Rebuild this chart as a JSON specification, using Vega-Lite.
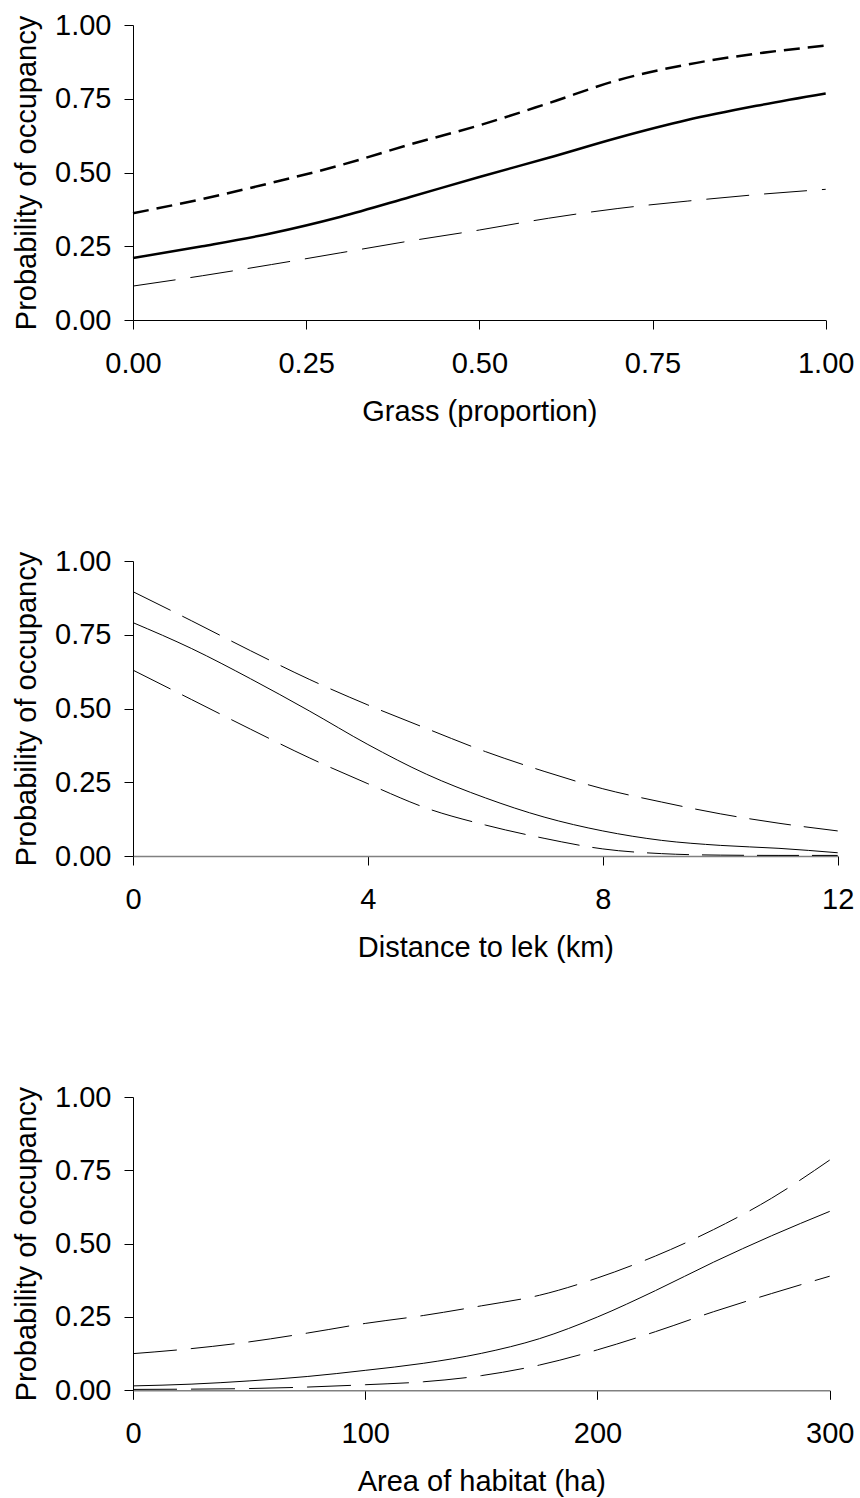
{
  "$schema": "https://vega.github.io/schema/vega-lite/v6.json",
  "background": "white",
  "padding": {"left": 12, "top": 11, "right": 5, "bottom": 5},
  "spacing": 121,
  "config": {
    "font": "Liberation Sans",
    "view": {"stroke": null},
    "axis": {
      "grid": false,
      "domainColor": "#000000",
      "tickColor": "#000000",
      "labelColor": "#000000",
      "titleColor": "#000000",
      "labelFontSize": 29,
      "titleFontSize": 29,
      "titleFontWeight": "normal",
      "tickSize": 9,
      "domainWidth": 1,
      "tickWidth": 1,
      "labelOverlap": false,
      "labelFlush": false
    },
    "axisX": {"labelPadding": 20, "titlePadding": 19},
    "axisY": {"labelPadding": 13, "titlePadding": 13}
  },
  "datasets": {
    "grass": [
      {"x": 0, "s": "est", "p": 0.210},
      {"x": 0.1, "s": "est", "p": 0.250},
      {"x": 0.2, "s": "est", "p": 0.294},
      {"x": 0.3, "s": "est", "p": 0.350},
      {"x": 0.4, "s": "est", "p": 0.417},
      {"x": 0.5, "s": "est", "p": 0.485},
      {"x": 0.6, "s": "est", "p": 0.550},
      {"x": 0.7, "s": "est", "p": 0.618},
      {"x": 0.8, "s": "est", "p": 0.678},
      {"x": 0.9, "s": "est", "p": 0.726},
      {"x": 1.0, "s": "est", "p": 0.768},
      {"x": 0, "s": "hi", "p": 0.362},
      {"x": 0.1, "s": "hi", "p": 0.410},
      {"x": 0.2, "s": "hi", "p": 0.465},
      {"x": 0.3, "s": "hi", "p": 0.525},
      {"x": 0.4, "s": "hi", "p": 0.595},
      {"x": 0.5, "s": "hi", "p": 0.660},
      {"x": 0.6, "s": "hi", "p": 0.735},
      {"x": 0.7, "s": "hi", "p": 0.813},
      {"x": 0.8, "s": "hi", "p": 0.866},
      {"x": 0.9, "s": "hi", "p": 0.903},
      {"x": 1.0, "s": "hi", "p": 0.930},
      {"x": 0, "s": "lo", "p": 0.115},
      {"x": 0.1, "s": "lo", "p": 0.150},
      {"x": 0.2, "s": "lo", "p": 0.188},
      {"x": 0.3, "s": "lo", "p": 0.228},
      {"x": 0.4, "s": "lo", "p": 0.268},
      {"x": 0.5, "s": "lo", "p": 0.305},
      {"x": 0.6, "s": "lo", "p": 0.345},
      {"x": 0.7, "s": "lo", "p": 0.378},
      {"x": 0.8, "s": "lo", "p": 0.403},
      {"x": 0.9, "s": "lo", "p": 0.425},
      {"x": 1.0, "s": "lo", "p": 0.443}
    ],
    "lek": [
      {"x": 0, "s": "est", "p": 0.791},
      {"x": 1, "s": "est", "p": 0.703},
      {"x": 2, "s": "est", "p": 0.601},
      {"x": 3, "s": "est", "p": 0.492},
      {"x": 4, "s": "est", "p": 0.378},
      {"x": 5, "s": "est", "p": 0.277},
      {"x": 6, "s": "est", "p": 0.197},
      {"x": 7, "s": "est", "p": 0.132},
      {"x": 8, "s": "est", "p": 0.085},
      {"x": 9, "s": "est", "p": 0.053},
      {"x": 10, "s": "est", "p": 0.036},
      {"x": 11, "s": "est", "p": 0.026},
      {"x": 12, "s": "est", "p": 0.011},
      {"x": 0, "s": "hi", "p": 0.896},
      {"x": 1, "s": "hi", "p": 0.797},
      {"x": 2, "s": "hi", "p": 0.696},
      {"x": 3, "s": "hi", "p": 0.599},
      {"x": 4, "s": "hi", "p": 0.512},
      {"x": 5, "s": "hi", "p": 0.432},
      {"x": 6, "s": "hi", "p": 0.354},
      {"x": 7, "s": "hi", "p": 0.287},
      {"x": 8, "s": "hi", "p": 0.228},
      {"x": 9, "s": "hi", "p": 0.183},
      {"x": 10, "s": "hi", "p": 0.143},
      {"x": 11, "s": "hi", "p": 0.111},
      {"x": 12, "s": "hi", "p": 0.085},
      {"x": 0, "s": "lo", "p": 0.630},
      {"x": 1, "s": "lo", "p": 0.530},
      {"x": 2, "s": "lo", "p": 0.430},
      {"x": 3, "s": "lo", "p": 0.333},
      {"x": 4, "s": "lo", "p": 0.245},
      {"x": 5, "s": "lo", "p": 0.162},
      {"x": 6, "s": "lo", "p": 0.105},
      {"x": 7, "s": "lo", "p": 0.060},
      {"x": 8, "s": "lo", "p": 0.024},
      {"x": 9, "s": "lo", "p": 0.008},
      {"x": 10, "s": "lo", "p": 0.003},
      {"x": 11, "s": "lo", "p": 0.002},
      {"x": 12, "s": "lo", "p": 0.002}
    ],
    "area": [
      {"x": 0, "s": "est", "p": 0.015},
      {"x": 25, "s": "est", "p": 0.021},
      {"x": 50, "s": "est", "p": 0.032},
      {"x": 75, "s": "est", "p": 0.047},
      {"x": 100, "s": "est", "p": 0.068},
      {"x": 125, "s": "est", "p": 0.092},
      {"x": 150, "s": "est", "p": 0.126},
      {"x": 175, "s": "est", "p": 0.176},
      {"x": 200, "s": "est", "p": 0.250},
      {"x": 225, "s": "est", "p": 0.340},
      {"x": 250, "s": "est", "p": 0.437},
      {"x": 275, "s": "est", "p": 0.527},
      {"x": 300, "s": "est", "p": 0.610},
      {"x": 0, "s": "hi", "p": 0.125},
      {"x": 25, "s": "hi", "p": 0.142},
      {"x": 50, "s": "hi", "p": 0.165},
      {"x": 75, "s": "hi", "p": 0.195},
      {"x": 100, "s": "hi", "p": 0.228},
      {"x": 125, "s": "hi", "p": 0.255},
      {"x": 150, "s": "hi", "p": 0.288},
      {"x": 175, "s": "hi", "p": 0.324},
      {"x": 200, "s": "hi", "p": 0.383},
      {"x": 225, "s": "hi", "p": 0.458},
      {"x": 250, "s": "hi", "p": 0.548},
      {"x": 275, "s": "hi", "p": 0.655},
      {"x": 300, "s": "hi", "p": 0.785},
      {"x": 0, "s": "lo", "p": 0.003},
      {"x": 25, "s": "lo", "p": 0.004},
      {"x": 50, "s": "lo", "p": 0.006},
      {"x": 75, "s": "lo", "p": 0.011},
      {"x": 100, "s": "lo", "p": 0.019},
      {"x": 125, "s": "lo", "p": 0.029},
      {"x": 150, "s": "lo", "p": 0.050},
      {"x": 175, "s": "lo", "p": 0.086},
      {"x": 200, "s": "lo", "p": 0.138},
      {"x": 225, "s": "lo", "p": 0.200},
      {"x": 250, "s": "lo", "p": 0.268},
      {"x": 275, "s": "lo", "p": 0.330},
      {"x": 300, "s": "lo", "p": 0.389}
    ]
  },
  "vconcat": [
    {
      "width": 692.7,
      "height": 295,
      "data": {"name": "grass"},
      "encoding": {
        "x": {"field": "x", "type": "quantitative", "scale": {"domain": [0, 1], "nice": false},
              "axis": {"values": [0, 0.25, 0.5, 0.75, 1], "format": ".2f", "title": "Grass (proportion)"}},
        "y": {"field": "p", "type": "quantitative", "scale": {"domain": [0, 1], "nice": false},
              "axis": {"values": [0, 0.25, 0.5, 0.75, 1], "format": ".2f", "title": "Probability of occupancy"}}
      },
      "layer": [
        {"transform": [{"filter": "datum.s === 'est'"}], "mark": {"type": "line", "color": "#000000", "strokeWidth": 2.5, "interpolate": "monotone"}},
        {"transform": [{"filter": "datum.s === 'hi'"}], "mark": {"type": "line", "color": "#000000", "strokeWidth": 2.5, "strokeDash": [16, 8], "interpolate": "monotone"}},
        {"transform": [{"filter": "datum.s === 'lo'"}], "mark": {"type": "line", "color": "#000000", "strokeWidth": 1, "strokeDash": [43, 15], "interpolate": "monotone"}}
      ]
    },
    {
      "width": 704.7,
      "height": 295,
      "data": {"name": "lek"},
      "encoding": {
        "x": {"field": "x", "type": "quantitative", "scale": {"domain": [0, 12], "nice": false},
              "axis": {"values": [0, 4, 8, 12], "format": "d", "title": "Distance to lek (km)", "domainColor": "#808080", "domainWidth": 1.5}},
        "y": {"field": "p", "type": "quantitative", "scale": {"domain": [0, 1], "nice": false},
              "axis": {"values": [0, 0.25, 0.5, 0.75, 1], "format": ".2f", "title": "Probability of occupancy"}}
      },
      "layer": [
        {"transform": [{"filter": "datum.s === 'est'"}], "mark": {"type": "line", "color": "#000000", "strokeWidth": 1, "interpolate": "monotone"}},
        {"transform": [{"filter": "datum.s === 'hi'"}], "mark": {"type": "line", "color": "#000000", "strokeWidth": 1, "strokeDash": [42, 13], "interpolate": "monotone"}},
        {"transform": [{"filter": "datum.s === 'lo'"}], "mark": {"type": "line", "color": "#000000", "strokeWidth": 1, "strokeDash": [42, 13], "interpolate": "monotone"}}
      ]
    },
    {
      "width": 696.7,
      "height": 293.3,
      "data": {"name": "area"},
      "encoding": {
        "x": {"field": "x", "type": "quantitative", "scale": {"domain": [0, 300], "nice": false},
              "axis": {"values": [0, 100, 200, 300], "format": "d", "title": "Area of habitat (ha)", "domainColor": "#808080", "domainWidth": 1.5}},
        "y": {"field": "p", "type": "quantitative", "scale": {"domain": [0, 1], "nice": false},
              "axis": {"values": [0, 0.25, 0.5, 0.75, 1], "format": ".2f", "title": "Probability of occupancy"}}
      },
      "layer": [
        {"transform": [{"filter": "datum.s === 'est'"}], "mark": {"type": "line", "color": "#000000", "strokeWidth": 1, "interpolate": "monotone"}},
        {"transform": [{"filter": "datum.s === 'hi'"}], "mark": {"type": "line", "color": "#000000", "strokeWidth": 1, "strokeDash": [44, 14], "interpolate": "monotone"}},
        {"transform": [{"filter": "datum.s === 'lo'"}], "mark": {"type": "line", "color": "#000000", "strokeWidth": 1, "strokeDash": [44, 14], "interpolate": "monotone"}}
      ]
    }
  ]
}
